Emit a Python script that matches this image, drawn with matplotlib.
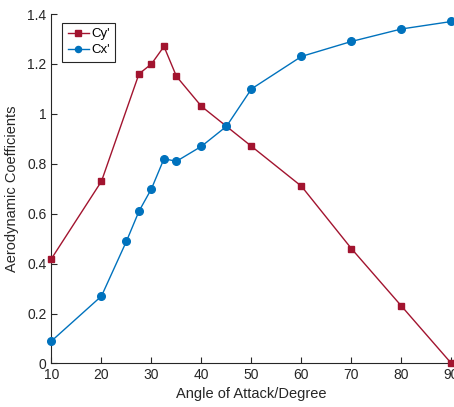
import matplotlib
matplotlib.use("Agg")
import matplotlib.pyplot as plt

# data
angle_cy = [10, 20, 27.5, 30, 32.5, 35, 40, 45, 50, 60, 70, 80, 90]
cy = [0.42, 0.73, 1.16, 1.20, 1.27, 1.15, 1.03, 0.95, 0.87, 0.71, 0.46, 0.23, 0.0]

angle_cx = [10, 20, 25, 27.5, 30, 32.5, 35, 40, 45, 50, 60, 70, 80, 90]
cx = [0.09, 0.27, 0.49, 0.61, 0.70, 0.82, 0.81, 0.87, 0.95, 1.10, 1.23, 1.29, 1.34, 1.37]

x_ticks = [10, 20, 30, 40, 50, 60, 70, 80, 90]
y_ticks = [0, 0.2, 0.4, 0.6, 0.8, 1, 1.2, 1.4]
y_ticklabels = ["0", "0.2", "0.4", "0.6", "0.8", "1", "1.2", "1.4"]

plt.rcParams['font.family'] = ['Liberation Sans', 'DejaVu Sans']

fig = plt.figure(figsize=(4.54, 4.07), dpi=100)
ax = fig.add_axes([0.1134, 0.1069, 0.881, 0.8587])

ax.plot(angle_cy, cy, color='#A2142F', lw=1.0, marker='s', ms=5,
        label="Cy'", clip_on=False, zorder=3)
ax.plot(angle_cx, cx, color='#0072BD', lw=1.0, marker='o', ms=5.5,
        label="Cx'", clip_on=False, zorder=3)

ax.set_xlim(10, 90)
ax.set_ylim(0, 1.4)
ax.set_xticks(x_ticks)
ax.set_yticks(y_ticks)
ax.set_yticklabels(y_ticklabels)

ax.spines['top'].set_visible(False)
ax.spines['right'].set_visible(False)
for s in ('left', 'bottom'):
    ax.spines[s].set_color('#262626')
    ax.spines[s].set_linewidth(0.8)

ax.tick_params(direction='in', length=4, width=0.8, colors='#262626',
               labelsize=10, labelcolor='#262626')
ax.set_xlabel('Angle of Attack/Degree', fontsize=10.5, color='#262626', labelpad=3)
ax.set_ylabel('Aerodynamic Coefficients', fontsize=10.5, color='#262626', labelpad=6)

leg = ax.legend(loc='upper left', bbox_to_anchor=(0.027, 0.975), borderaxespad=0,
                fontsize=9.5, fancybox=False, edgecolor='#262626', framealpha=1,
                handlelength=1.6, borderpad=0.4, labelspacing=0.3,
                handletextpad=0.2, markerscale=0.8)
leg.get_frame().set_linewidth(0.8)

fig.savefig('out.png', dpi=100)
